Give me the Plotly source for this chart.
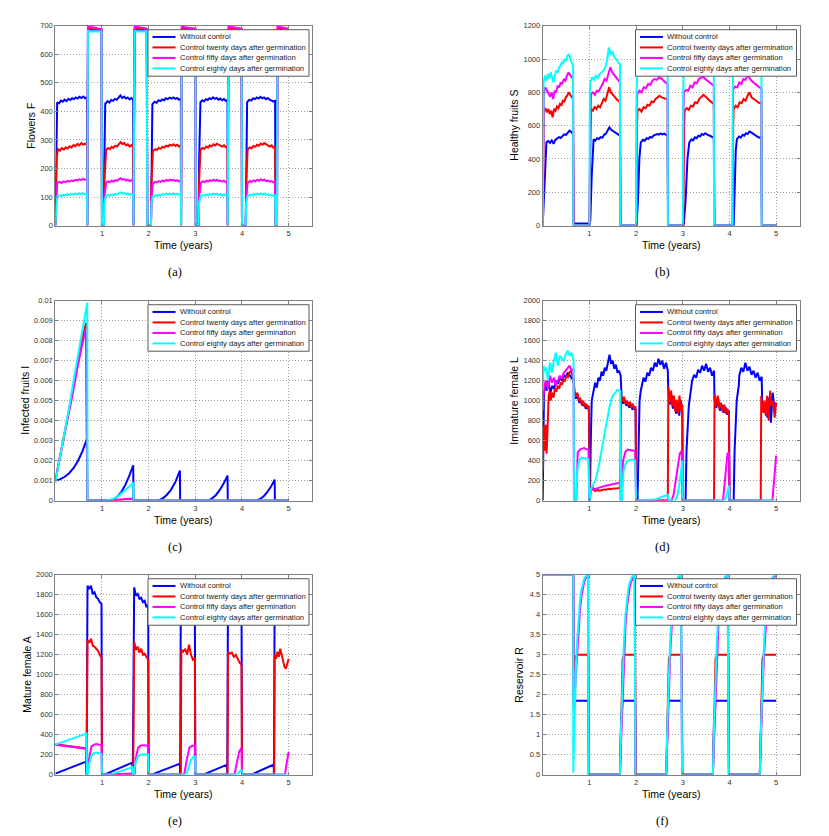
import numpy as np
import plotly.graph_objects as go

W, H = 829, 836

series_names = ["Without control",
                "Control twenty days after germination",
                "Control fifty days after germination",
                "Control eighty days after germination"]
series_colors = ["#0000ff", "#ff0000", "#ff00ff", "#00ffff"]

year_ticks = [1, 2, 3, 4, 5]

# each series is a list of (t_start, t_end, values) pieces

# ---- (a) Flowers F
flowers_ticks = [0, 100, 200, 300, 400, 500, 600, 700]
flowers_without = [
    (0.00, 0.03, [0, 260, 430]),
    (0.04, 0.68, [432, 428, 438, 434, 441, 436, 444, 440, 446, 443, 449, 445, 451, 447, 452, 446, 449]),
    (0.685, 0.685, [0]),
    (0.70, 0.99, [686, 688, 685, 687, 686, 684]),
    (1.00, 1.04, [0, 0]),
    (1.05, 1.07, [220, 430]),
    (1.08, 1.67, [428, 436, 431, 440, 437, 444, 441, 448, 456, 447, 452, 445, 449, 442, 447, 440]),
    (1.675, 1.675, [0]),
    (1.70, 1.96, [686, 688, 685, 687, 686]),
    (1.97, 2.05, [0, 0]),
    (2.06, 2.08, [220, 425]),
    (2.09, 2.69, [427, 434, 430, 439, 436, 442, 439, 446, 443, 448, 445, 449, 444, 447, 441, 445]),
    (2.695, 2.695, [0]),
    (2.71, 3.00, [686, 688, 685, 687, 686]),
    (3.01, 3.07, [0, 0]),
    (3.08, 3.10, [220, 430]),
    (3.11, 3.69, [432, 439, 435, 443, 440, 446, 443, 449, 444, 447, 441, 445, 439, 443, 437, 440]),
    (3.695, 3.695, [0]),
    (3.71, 3.99, [686, 688, 685, 687, 686]),
    (4.00, 4.08, [0, 0]),
    (4.09, 4.11, [220, 432]),
    (4.12, 4.71, [434, 441, 438, 446, 443, 449, 445, 451, 446, 449, 443, 447, 441, 439, 435, 437]),
    (4.72, 4.75, [0, 0]),
    (4.76, 5.00, [686, 688, 685, 687, 686]),
]
flowers_twenty = [
    (0.00, 0.05, [0, 150, 240, 262]),
    (0.06, 0.68, [268, 263, 271, 266, 274, 270, 278, 274, 282, 278, 286, 281, 289, 284, 287, 282]),
    (0.685, 0.685, [0]),
    (0.70, 0.99, [689, 691, 688, 690, 689, 687]),
    (1.00, 1.04, [0, 0]),
    (1.05, 1.08, [150, 262]),
    (1.09, 1.67, [266, 272, 268, 276, 272, 280, 277, 285, 292, 286, 289, 281, 285, 277, 282, 275]),
    (1.675, 1.675, [0]),
    (1.70, 1.96, [689, 691, 688, 690, 689]),
    (1.97, 2.05, [0, 0]),
    (2.06, 2.09, [150, 258]),
    (2.10, 2.69, [262, 268, 265, 272, 269, 276, 273, 280, 277, 283, 280, 285, 279, 283, 277, 281]),
    (2.695, 2.695, [0]),
    (2.71, 3.00, [689, 691, 688, 690, 689]),
    (3.01, 3.07, [0, 0]),
    (3.08, 3.11, [150, 262]),
    (3.12, 3.69, [268, 272, 269, 277, 273, 281, 277, 285, 281, 287, 283, 280, 277, 281, 275, 277]),
    (3.695, 3.695, [0]),
    (3.71, 3.99, [689, 691, 688, 690, 689]),
    (4.00, 4.08, [0, 0]),
    (4.09, 4.12, [150, 262]),
    (4.13, 4.71, [268, 274, 271, 279, 276, 283, 280, 287, 283, 289, 285, 281, 277, 281, 273, 275]),
    (4.72, 4.75, [0, 0]),
    (4.76, 5.00, [689, 691, 688, 690, 689]),
]
flowers_fifty = [
    (0.00, 0.04, [0, 100, 148]),
    (0.05, 0.68, [150, 153, 149, 155, 152, 157, 154, 158, 156, 160, 158, 162, 159, 164, 160, 162]),
    (0.685, 0.685, [0]),
    (0.70, 0.99, [698, 696, 694, 692, 690, 688]),
    (1.00, 1.04, [0, 0]),
    (1.05, 1.08, [100, 148]),
    (1.09, 1.67, [150, 155, 152, 157, 154, 159, 157, 162, 166, 161, 163, 158, 161, 156, 159, 154]),
    (1.675, 1.675, [0]),
    (1.70, 1.96, [698, 695, 693, 691, 689]),
    (1.97, 2.05, [0, 0]),
    (2.06, 2.09, [100, 146]),
    (2.10, 2.69, [148, 153, 151, 156, 153, 158, 155, 160, 157, 161, 158, 160, 156, 159, 155, 157]),
    (2.695, 2.695, [0]),
    (2.71, 3.00, [698, 695, 693, 691, 689]),
    (3.01, 3.07, [0, 0]),
    (3.08, 3.11, [100, 148]),
    (3.12, 3.69, [150, 155, 152, 157, 154, 159, 156, 161, 157, 160, 156, 158, 154, 157, 152, 154]),
    (3.695, 3.695, [0]),
    (3.71, 3.99, [698, 695, 693, 691, 689]),
    (4.00, 4.08, [0, 0]),
    (4.09, 4.12, [100, 148]),
    (4.13, 4.71, [150, 156, 153, 158, 155, 160, 157, 162, 158, 161, 156, 158, 154, 156, 151, 153]),
    (4.72, 4.75, [0, 0]),
    (4.76, 5.00, [698, 695, 693, 691, 689]),
]
flowers_eighty = [
    (0.00, 0.04, [0, 80, 102]),
    (0.05, 0.68, [103, 106, 104, 108, 106, 110, 107, 111, 109, 112, 110, 113, 111, 114, 110, 112]),
    (0.685, 0.685, [0]),
    (0.70, 0.99, [681, 680, 681, 680, 681, 680]),
    (1.00, 1.04, [0, 0]),
    (1.05, 1.08, [80, 102]),
    (1.09, 1.67, [104, 107, 105, 109, 107, 111, 109, 113, 116, 112, 114, 110, 112, 108, 111, 107]),
    (1.675, 1.675, [0]),
    (1.70, 1.96, [681, 680, 681, 680, 681]),
    (1.97, 2.05, [0, 0]),
    (2.06, 2.09, [80, 102]),
    (2.10, 2.69, [103, 106, 104, 108, 106, 110, 108, 111, 109, 112, 110, 113, 109, 112, 108, 110]),
    (2.695, 2.695, [0]),
    (2.71, 3.00, [681, 680, 681, 680, 681]),
    (3.01, 3.07, [0, 0]),
    (3.08, 3.11, [80, 103]),
    (3.12, 3.69, [104, 107, 105, 109, 107, 111, 108, 112, 109, 111, 107, 110, 106, 109, 105, 107]),
    (3.695, 3.695, [0]),
    (3.71, 3.99, [681, 680, 681, 680, 681]),
    (4.00, 4.08, [0, 0]),
    (4.09, 4.12, [80, 103]),
    (4.13, 4.71, [104, 108, 106, 110, 108, 112, 110, 113, 109, 112, 108, 110, 106, 108, 104, 106]),
    (4.72, 4.75, [0, 0]),
    (4.76, 5.00, [681, 680, 681, 680, 681]),
]

# ---- (b) Healthy fruits S
healthy_ticks = [0, 200, 400, 600, 800, 1000, 1200]
healthy_without = [
    (0.00, 0.07, [0, 150, 350, 480]),
    (0.08, 0.65, [501, 508, 497, 512, 491, 515, 522, 531, 526, 540, 548, 544, 556, 570, 562, 550]),
    (0.66, 0.66, [12]),
    (0.67, 0.97, [12, 13, 12]),
    (0.99, 1.02, [0, 30]),
    (1.05, 1.08, [300, 500]),
    (1.09, 1.655, [518, 510, 525, 520, 531, 528, 545, 552, 570, 590, 575, 568, 560, 555, 545, 540]),
    (1.665, 2.01, [0, 0]),
    (2.04, 2.10, [150, 400, 500]),
    (2.11, 2.675, [505, 515, 510, 525, 520, 532, 528, 540, 545, 550, 546, 553, 548, 552, 546, 545]),
    (2.685, 3.02, [0, 0]),
    (3.06, 3.14, [150, 400, 500]),
    (3.15, 3.665, [505, 518, 512, 530, 525, 540, 535, 550, 545, 555, 548, 545, 538, 532, 528]),
    (3.675, 4.09, [0, 0]),
    (4.11, 4.16, [200, 450, 520]),
    (4.17, 4.685, [525, 535, 528, 545, 540, 555, 550, 565, 560, 552, 545, 540, 532, 528, 530]),
    (4.695, 5.00, [0, 0]),
]
healthy_twenty = [
    (0.00, 0.02, [0, 620]),
    (0.025, 0.65, [690, 705, 680, 700, 670, 690, 650, 700, 690, 715, 705, 730, 720, 750, 745, 770, 780, 800, 785, 770, 760]),
    (0.66, 0.99, [0, 0]),
    (1.00, 1.02, [0, 480]),
    (1.035, 1.655, [700, 690, 715, 700, 720, 710, 740, 760, 750, 790, 830, 800, 790, 775, 760, 750, 740]),
    (1.665, 2.00, [0, 0]),
    (2.01, 2.02, [0, 600]),
    (2.03, 2.675, [690, 700, 685, 710, 705, 725, 720, 745, 740, 760, 770, 780, 770, 765, 760, 758]),
    (2.685, 3.00, [0, 0]),
    (3.01, 3.03, [0, 600]),
    (3.04, 3.665, [690, 705, 695, 720, 715, 740, 735, 760, 770, 785, 775, 760, 750, 740, 730]),
    (3.675, 4.065, [0, 0]),
    (4.07, 4.08, [0, 600]),
    (4.09, 4.685, [700, 720, 710, 740, 735, 760, 750, 780, 800, 770, 760, 750, 740, 735, 740]),
    (4.695, 5.00, [0, 0]),
]
healthy_fifty = [
    (0.00, 0.02, [0, 700]),
    (0.025, 0.65, [800, 830, 810, 790, 775, 800, 760, 810, 800, 840, 830, 860, 850, 880, 870, 900, 920, 905, 890, 880]),
    (0.66, 0.99, [0, 0]),
    (1.00, 1.02, [0, 600]),
    (1.035, 1.655, [790, 800, 785, 810, 805, 830, 850, 880, 870, 910, 950, 920, 905, 890, 875, 860]),
    (1.665, 2.00, [0, 0]),
    (2.005, 2.015, [0, 700]),
    (2.025, 2.675, [790, 810, 800, 830, 825, 850, 845, 870, 880, 875, 890, 885, 870, 860, 850]),
    (2.685, 3.00, [0, 0]),
    (3.005, 3.015, [0, 700]),
    (3.025, 3.665, [800, 815, 810, 840, 830, 860, 855, 880, 890, 895, 880, 870, 860, 850, 840]),
    (3.675, 4.065, [0, 0]),
    (4.068, 4.075, [0, 700]),
    (4.08, 4.685, [820, 835, 830, 860, 850, 880, 875, 900, 890, 870, 860, 850, 835, 830, 825]),
    (4.695, 5.00, [0, 0]),
]
healthy_eighty = [
    (0.00, 0.015, [0, 750]),
    (0.02, 0.65, [860, 900, 870, 910, 880, 920, 890, 860, 900, 930, 920, 950, 960, 980, 970, 1000, 990, 1020, 1030, 1000, 980, 960]),
    (0.655, 0.995, [0, 0]),
    (1.00, 1.01, [0, 800]),
    (1.02, 1.655, [860, 890, 875, 900, 885, 910, 920, 930, 950, 990, 1070, 1030, 1040, 1010, 1000, 980, 970]),
    (1.66, 1.995, [0, 0]),
    (2.00, 2.01, [0, 800]),
    (2.02, 2.675, [890, 920, 910, 940, 930, 960, 955, 980, 975, 1000, 990, 980, 970, 960, 950]),
    (2.68, 2.995, [0, 0]),
    (3.00, 3.01, [0, 800]),
    (3.02, 3.665, [890, 920, 905, 940, 935, 965, 960, 990, 985, 1000, 985, 975, 960, 950, 945]),
    (3.67, 4.06, [0, 0]),
    (4.065, 4.07, [0, 800]),
    (4.075, 4.685, [895, 925, 915, 950, 940, 970, 965, 990, 980, 965, 955, 945, 935, 930, 925]),
    (4.69, 5.00, [0, 0]),
]

# ---- (c) Infected fruits I
infected_ticks = [0, 0.001, 0.002, 0.003, 0.004, 0.005, 0.006, 0.007, 0.008, 0.009, 0.01]
infected_labels = ["0", "0.001", "0.002", "0.003", "0.004", "0.005", "0.006", "0.007", "0.008", "0.009", "0.01"]
infected_without = [
    (0.00, 0.68, [0.00100, 0.00106, 0.00118, 0.00136, 0.00162, 0.00198, 0.00248, 0.00310]),
    (0.685, 1.17, [0, 0]),
    (1.17, 1.67, [0, 0.00008, 0.00022, 0.00045, 0.00080, 0.00125, 0.00177]),
    (1.675, 2.20, [0, 0]),
    (2.20, 2.67, [0, 0.00010, 0.00028, 0.00055, 0.00095, 0.00150]),
    (2.675, 3.27, [0, 0]),
    (3.27, 3.69, [0, 0.00010, 0.00027, 0.00052, 0.00085, 0.00125]),
    (3.695, 4.31, [0, 0]),
    (4.31, 4.70, [0, 0.00008, 0.00022, 0.00043, 0.00070, 0.00105]),
    (4.705, 5.00, [0, 0]),
]
infected_twenty = [
    (0.00, 0.66, [0.0010, 0.0021, 0.0032, 0.0044, 0.0056, 0.0068, 0.0080, 0.0089]),
    (0.685, 1.15, [0, 0]),
    (1.15, 1.67, [0, 0.00003, 0.00008]),
    (1.675, 5.00, [0, 0]),
]
infected_fifty = [
    (0.00, 0.66, [0.0010, 0.0021, 0.0031, 0.0042, 0.0054, 0.0066, 0.0077, 0.0086]),
    (0.685, 1.15, [0, 0]),
    (1.15, 1.67, [0, 0.00002, 0.00005, 0.00008, 0.00010]),
    (1.675, 5.00, [0, 0]),
]
infected_eighty = [
    (0.00, 0.685, [0.0009, 0.0021, 0.0033, 0.0046, 0.0060, 0.0073, 0.0087, 0.0099]),
    (0.69, 1.10, [0, 0]),
    (1.10, 1.67, [0, 0.00005, 0.00015, 0.00030, 0.00048, 0.00068, 0.00090]),
    (1.675, 5.00, [0, 0]),
]

# ---- (d) Immature female L
immature_ticks = [0, 200, 400, 600, 800, 1000, 1200, 1400, 1600, 1800, 2000]
immature_without = [
    (0.00, 0.03, [0, 900, 1150]),
    (0.04, 0.66, [1180, 1100, 1200, 1080, 1150, 1120, 1200, 1170, 1240, 1200, 1260, 1230, 1280, 1250, 1230, 1200]),
    (0.68, 0.99, [1080, 1020, 1060, 980, 1000, 950, 980, 920, 950, 900]),
    (1.00, 1.01, [0, 0]),
    (1.03, 1.07, [600, 1000, 1050]),
    (1.09, 1.67, [1110, 1180, 1130, 1230, 1200, 1290, 1250, 1330, 1300, 1400, 1460, 1370, 1400, 1320, 1360, 1280, 1300, 1250]),
    (1.69, 1.99, [1030, 970, 1010, 950, 970, 930, 960, 910, 940, 900]),
    (2.00, 2.03, [0, 0]),
    (2.05, 2.10, [600, 1000, 1100]),
    (2.12, 2.68, [1150, 1230, 1190, 1280, 1250, 1330, 1300, 1380, 1340, 1420, 1360, 1400, 1320, 1380, 1300]),
    (2.69, 2.99, [1100, 960, 1060, 920, 1000, 870, 960, 850, 1000, 880]),
    (3.00, 3.06, [0, 0]),
    (3.08, 3.18, [500, 950, 1100]),
    (3.20, 3.67, [1200, 1260, 1230, 1310, 1280, 1350, 1300, 1370, 1290, 1330, 1250, 1300]),
    (3.68, 3.99, [1000, 930, 1020, 900, 960, 880, 940, 860, 900]),
    (4.00, 4.09, [0, 0]),
    (4.11, 4.20, [500, 1000, 1150]),
    (4.21, 4.69, [1250, 1330, 1290, 1380, 1300, 1340, 1260, 1300, 1230, 1280, 1200, 1240]),
    (4.70, 5.00, [1000, 880, 980, 830, 1030, 780, 1080, 930, 980]),
]
immature_twenty = [
    (0.00, 0.012, [300, 600]),
    (0.02, 0.15, [750, 500, 760, 470, 700, 1050, 1100]),
    (0.17, 0.66, [1000, 1080, 1030, 1120, 1090, 1150, 1120, 1180, 1160, 1210, 1200, 1250, 1230, 1280, 1300, 1260, 1230]),
    (0.68, 0.99, [1100, 1040, 1080, 1000, 1030, 960, 1000, 940, 970, 930, 950]),
    (1.00, 1.01, [0, 0]),
    (1.02, 1.66, [120, 135, 95, 105, 100, 108, 112, 110, 118, 115, 122, 120, 128, 130]),
    (1.68, 1.99, [1060, 990, 1040, 970, 1000, 950, 990, 930, 970, 920, 940]),
    (2.00, 2.68, [0, 0]),
    (2.69, 2.99, [1140, 980, 1100, 940, 1050, 890, 1010, 870, 1050, 900, 960]),
    (3.00, 3.67, [0, 0]),
    (3.68, 3.99, [1060, 950, 1050, 920, 980, 890, 960, 870, 920, 860]),
    (4.00, 4.67, [0, 0]),
    (4.68, 5.00, [1050, 880, 1000, 850, 1050, 800, 1100, 950, 1000, 830, 980]),
]
immature_fifty = [
    (0.00, 0.02, [900, 1100]),
    (0.03, 0.66, [1150, 1200, 1120, 1250, 1180, 1230, 1150, 1200, 1250, 1220, 1280, 1300, 1330, 1350, 1300, 1320]),
    (0.67, 0.72, [0, 0]),
    (0.75, 0.98, [480, 510, 520, 525, 515, 510]),
    (1.00, 1.01, [0, 0]),
    (1.03, 1.66, [100, 115, 120, 130, 138, 145, 152, 158, 165, 170, 175, 180]),
    (1.67, 1.69, [0, 0]),
    (1.72, 1.98, [400, 490, 510, 505, 500, 495]),
    (2.00, 2.72, [0, 0]),
    (2.76, 2.98, [0, 60, 200, 380, 470, 500]),
    (3.00, 3.82, [0, 0]),
    (3.86, 3.99, [0, 150, 350, 470, 480]),
    (4.00, 4.88, [0, 0]),
    (4.92, 5.00, [0, 150, 330, 450]),
]
immature_eighty = [
    (0.00, 0.02, [1100, 1350]),
    (0.03, 0.66, [1300, 1330, 1200, 1380, 1280, 1400, 1480, 1350, 1450, 1420, 1400, 1460, 1500, 1450, 1480, 1400]),
    (0.67, 0.72, [0, 0]),
    (0.74, 0.98, [300, 410, 430, 425, 420, 415]),
    (1.00, 1.01, [0, 0]),
    (1.02, 1.66, [100, 150, 215, 330, 480, 640, 810, 930, 1040, 1080, 1107, 1100]),
    (1.67, 1.70, [0, 0]),
    (1.73, 1.98, [300, 390, 405, 410, 400]),
    (2.00, 2.30, [0, 3]),
    (2.30, 2.68, [3, 10, 25, 45, 55]),
    (2.69, 2.84, [0, 5]),
    (2.84, 2.99, [5, 60, 200, 400]),
    (3.00, 3.88, [0, 0]),
    (3.88, 3.99, [0, 20, 80, 150]),
    (4.00, 5.00, [0, 0]),
]

# ---- (e) Mature female A
mature_ticks = [0, 200, 400, 600, 800, 1000, 1200, 1400, 1600, 1800, 2000]
mature_without = [
    (0.00, 0.66, [10, 130]),
    (0.67, 0.67, [0]),
    (0.69, 0.99, [1890, 1858, 1890, 1808, 1825, 1775, 1759, 1726, 1709]),
    (1.00, 1.05, [0, 0]),
    (1.05, 1.65, [0, 120]),
    (1.66, 1.66, [0]),
    (1.69, 1.99, [1874, 1792, 1808, 1760, 1770, 1726, 1740, 1676, 1700]),
    (2.00, 2.06, [0, 0]),
    (2.06, 2.67, [0, 110]),
    (2.675, 2.675, [0]),
    (2.69, 2.99, [1850, 1800, 1820, 1760, 1780, 1720, 1740, 1700]),
    (3.00, 3.17, [0, 0]),
    (3.17, 3.68, [0, 100]),
    (3.685, 3.685, [0]),
    (3.70, 3.99, [1820, 1780, 1800, 1740, 1760, 1700, 1720]),
    (4.00, 4.20, [0, 0]),
    (4.20, 4.68, [0, 100]),
    (4.685, 4.685, [0]),
    (4.70, 5.00, [1800, 1760, 1780, 1720, 1740, 1700, 1710]),
]
mature_twenty = [
    (0.00, 0.66, [305, 262]),
    (0.67, 0.67, [0]),
    (0.69, 0.99, [1346, 1320, 1360, 1290, 1280, 1260, 1240, 1200, 1170]),
    (1.00, 1.67, [0, 0]),
    (1.69, 1.99, [1330, 1250, 1280, 1220, 1260, 1200, 1210, 1180, 1150]),
    (2.00, 2.69, [0, 0]),
    (2.70, 2.99, [1250, 1230, 1260, 1200, 1300, 1200, 1150, 1170]),
    (3.00, 3.69, [0, 0]),
    (3.70, 3.99, [1230, 1210, 1220, 1180, 1200, 1150, 1120, 1100]),
    (4.00, 4.69, [0, 0]),
    (4.70, 5.00, [1200, 1160, 1230, 1180, 1260, 1200, 1150, 1080, 1060, 1100, 1160]),
]
mature_fifty = [
    (0.00, 0.66, [300, 260]),
    (0.67, 0.70, [0, 0]),
    (0.72, 0.99, [150, 280, 300, 305, 300, 300]),
    (1.00, 1.15, [0, 0]),
    (1.15, 1.66, [0, 5, 10]),
    (1.67, 1.70, [0, 0]),
    (1.72, 1.99, [150, 270, 290, 295, 295, 290]),
    (2.00, 2.74, [0, 0]),
    (2.76, 2.99, [0, 150, 270, 290, 290]),
    (3.00, 3.82, [0, 0]),
    (3.84, 3.99, [0, 120, 230, 270]),
    (4.00, 4.90, [0, 0]),
    (4.92, 5.00, [0, 120, 230]),
]
mature_eighty = [
    (0.00, 0.67, [300, 410]),
    (0.68, 0.70, [0, 0]),
    (0.72, 0.99, [100, 190, 215, 220, 215, 205]),
    (1.00, 1.17, [0, 0]),
    (1.17, 1.65, [0, 35, 75]),
    (1.66, 1.68, [0, 0]),
    (1.71, 1.99, [100, 180, 200, 205, 203, 200]),
    (2.00, 2.78, [0, 0]),
    (2.80, 3.00, [0, 60, 140, 175, 180]),
    (3.00, 3.90, [0, 0]),
    (3.90, 3.99, [0, 30, 50]),
    (4.00, 5.00, [0, 0]),
]

# ---- (f) Reservoir R
reservoir_ticks = [0, 0.5, 1, 1.5, 2, 2.5, 3, 3.5, 4, 4.5, 5]
reservoir_labels = ["0", "0.5", "1", "1.5", "2", "2.5", "3", "3.5", "4", "4.5", "5"]
reservoir_without = [
    (0.00, 0.655, [5, 5]),
    (0.66, 0.98, [1.85, 1.85]),
    (0.99, 1.655, [0, 0]),
    (1.655, 1.70, [0, 1.3, 1.85]),
    (1.71, 1.98, [1.85, 1.85]),
    (1.99, 2.645, [0, 0]),
    (2.645, 2.69, [0, 1.3, 1.85]),
    (2.70, 2.98, [1.85, 1.85]),
    (2.99, 3.645, [0, 0]),
    (3.645, 3.69, [0, 1.3, 1.85]),
    (3.70, 3.98, [1.85, 1.85]),
    (3.99, 4.65, [0, 0]),
    (4.65, 4.69, [0, 1.3, 1.85]),
    (4.70, 5.00, [1.85, 1.85]),
]
reservoir_twenty = [
    (0.00, 0.655, [5, 5]),
    (0.66, 0.74, [2.6, 2.9, 2.97, 3.0]),
    (0.76, 0.98, [3.0, 3.0]),
    (0.99, 1.655, [0, 0]),
    (1.655, 1.75, [0, 1.2, 2.2, 2.9, 2.97, 3.0]),
    (1.76, 1.98, [3.0, 3.0]),
    (1.99, 2.645, [0, 0]),
    (2.645, 2.74, [0, 1.2, 2.2, 2.9, 2.97, 3.0]),
    (2.75, 2.98, [3.0, 3.0]),
    (2.99, 3.645, [0, 0]),
    (3.645, 3.74, [0, 1.2, 2.2, 2.9, 2.97, 3.0]),
    (3.75, 3.98, [3.0, 3.0]),
    (3.99, 4.65, [0, 0]),
    (4.65, 4.745, [0, 1.2, 2.2, 2.9, 2.97, 3.0]),
    (4.755, 5.00, [3.0, 3.0]),
]
reservoir_fifty = [
    (0.00, 0.655, [5, 5]),
    (0.66, 0.97, [1.7, 2.0, 2.6, 3.2, 3.75, 4.15, 4.45, 4.65, 4.8, 4.9, 4.95, 4.98]),
    (0.985, 1.655, [0, 0]),
    (1.66, 1.97, [0.2, 1.1, 2.3, 3.1, 3.7, 4.15, 4.45, 4.65, 4.8, 4.9, 4.95, 4.98]),
    (1.985, 2.645, [0, 0]),
    (2.65, 2.96, [0.2, 1.1, 2.3, 3.1, 3.7, 4.15, 4.45, 4.65, 4.8, 4.9, 4.95, 4.98]),
    (2.985, 3.645, [0, 0]),
    (3.65, 3.96, [0.2, 1.1, 2.3, 3.1, 3.7, 4.15, 4.45, 4.65, 4.8, 4.9, 4.95, 4.98]),
    (3.985, 4.65, [0, 0]),
    (4.655, 4.99, [0.2, 1.1, 2.3, 3.1, 3.7, 4.15, 4.45, 4.65, 4.8, 4.9, 4.95, 4.98]),
]
reservoir_eighty = [
    (0.00, 0.655, [5, 5]),
    (0.655, 0.97, [0.05, 1.6, 2.7, 3.4, 3.95, 4.35, 4.6, 4.78, 4.88, 4.95, 4.98, 5.0]),
    (0.985, 1.655, [0, 0]),
    (1.655, 1.97, [0, 1.4, 2.6, 3.35, 3.95, 4.35, 4.6, 4.78, 4.88, 4.95, 4.98, 5.0]),
    (1.985, 2.645, [0, 0]),
    (2.645, 2.96, [0, 1.4, 2.6, 3.35, 3.95, 4.35, 4.6, 4.78, 4.88, 4.95, 4.98, 5.0]),
    (2.985, 3.645, [0, 0]),
    (3.645, 3.96, [0, 1.4, 2.6, 3.35, 3.95, 4.35, 4.6, 4.78, 4.88, 4.95, 4.98, 5.0]),
    (3.985, 4.65, [0, 0]),
    (4.65, 4.99, [0, 1.4, 2.6, 3.35, 3.95, 4.35, 4.6, 4.78, 4.88, 4.95, 4.98, 5.0]),
]


def unpack(pieces):
    t, y = [], []
    for t0, t1, vals in pieces:
        t.extend(np.linspace(t0, t1, len(vals)))
        y.extend(vals)
    return t, y


def px(x):
    return x / W


def py(y):
    return 1 - y / H


# panel boxes in pixels: left, right, top, bottom
cols = [(55.3, 312.0), (542.7, 799.5)]
rows = [(22.0, 224.0), (300.0, 502.0), (577.0, 779.0)]

panels = [
    ("Flowers F", [flowers_without, flowers_twenty, flowers_fifty, flowers_eighty],
     flowers_ticks, None, 700, "(a)"),
    ("Healthy fruits S", [healthy_without, healthy_twenty, healthy_fifty, healthy_eighty],
     healthy_ticks, None, 1200, "(b)"),
    ("Infected fruits I", [infected_without, infected_twenty, infected_fifty, infected_eighty],
     infected_ticks, infected_labels, 0.01, "(c)"),
    ("Immature female L", [immature_without, immature_twenty, immature_fifty, immature_eighty],
     immature_ticks, None, 2000, "(d)"),
    ("Mature female A", [mature_without, mature_twenty, mature_fifty, mature_eighty],
     mature_ticks, None, 2000, "(e)"),
    ("Reservoir R", [reservoir_without, reservoir_twenty, reservoir_fifty, reservoir_eighty],
     reservoir_ticks, reservoir_labels, 5, "(f)"),
]

tick_font = dict(family="Liberation Sans, Arial, sans-serif", size=7.5, color="#333333")
title_font = dict(family="Liberation Sans, Arial, sans-serif", size=10.5, color="#000000")
frame = "#808080"

fig = go.Figure()
annotations = []
shapes = []

for i, (ytitle, series, yticks, ylabels, ymax, caption) in enumerate(panels):
    n = i + 1
    left, right = cols[i % 2]
    top, bottom = rows[i // 2]
    sfx = "" if n == 1 else str(n)

    for pieces, color in zip(series, series_colors):
        t, y = unpack(pieces)
        fig.add_trace(go.Scatter(
            x=t, y=y, mode="lines", line=dict(color=color, width=2),
            xaxis="x" + sfx, yaxis="y" + sfx, showlegend=False, hoverinfo="skip"))

    common = dict(showline=True, linecolor=frame, linewidth=1, mirror="ticks",
                  ticks="inside", ticklen=3, tickcolor=frame,
                  showgrid=True, gridcolor="#a0a0a0", griddash="1px,2px", gridwidth=1,
                  zeroline=False, tickfont=tick_font, fixedrange=True)
    fig.layout["xaxis" + sfx] = dict(
        domain=[px(left), px(right)], range=[0, 5.5], tickvals=year_ticks,
        anchor="y" + sfx, **common)
    ydict = dict(domain=[py(bottom), py(top)], range=[0, ymax], tickvals=yticks,
                 anchor="x" + sfx, **common)
    if ylabels:
        ydict["ticktext"] = ylabels
    fig.layout["yaxis" + sfx] = ydict

    # axis titles
    annotations.append(dict(
        x=px((left + right) / 2), y=py(bottom + 20), xref="paper", yref="paper",
        text="Time (years)", showarrow=False, font=title_font,
        xanchor="center", yanchor="middle"))
    ytitle_x = {1: 31, 2: 514, 3: 25, 4: 514, 5: 27, 6: 519}[n]
    annotations.append(dict(
        x=px(ytitle_x), y=py((top + bottom) / 2), xref="paper", yref="paper",
        text=ytitle, showarrow=False, font=title_font, textangle=-90,
        xanchor="center", yanchor="middle"))
    # caption
    annotations.append(dict(
        x=px(left + 120), y=py(bottom + 47), xref="paper", yref="paper",
        text=caption, showarrow=False,
        font=dict(family="Liberation Serif, Times New Roman, serif", size=12.5, color="#000000"),
        xanchor="center", yanchor="middle"))

    # legend box drawn in the upper right corner of the panel
    lg_right = right - 3
    lg_left = lg_right - 161
    lg_top = top + 4
    shapes.append(dict(type="rect", xref="paper", yref="paper",
                       x0=px(lg_left), x1=px(lg_right), y0=py(lg_top + 47), y1=py(lg_top),
                       line=dict(color="#5a5a5a", width=1), fillcolor="white", layer="above"))
    for k, (name, color) in enumerate(zip(series_names, series_colors)):
        yy = lg_top + 7.3 + k * 10.6
        shapes.append(dict(type="line", xref="paper", yref="paper",
                           x0=px(lg_left + 4.5), x1=px(lg_left + 27.5), y0=py(yy), y1=py(yy),
                           line=dict(color=color, width=2), layer="above"))
        annotations.append(dict(
            x=px(lg_left + 29.5), y=py(yy), xref="paper", yref="paper",
            text=name, showarrow=False, xanchor="left", yanchor="middle",
            font=dict(family="Liberation Sans, Arial, sans-serif", size=7.6, color="#222222")))

fig.update_layout(
    width=W, height=H,
    margin=dict(l=0, r=0, t=0, b=0),
    paper_bgcolor="white", plot_bgcolor="white",
    showlegend=False,
    annotations=annotations,
    shapes=shapes,
)

fig.write_html("out.html", config={"displayModeBar": False},
               post_script="document.body.style.margin='0px';")
